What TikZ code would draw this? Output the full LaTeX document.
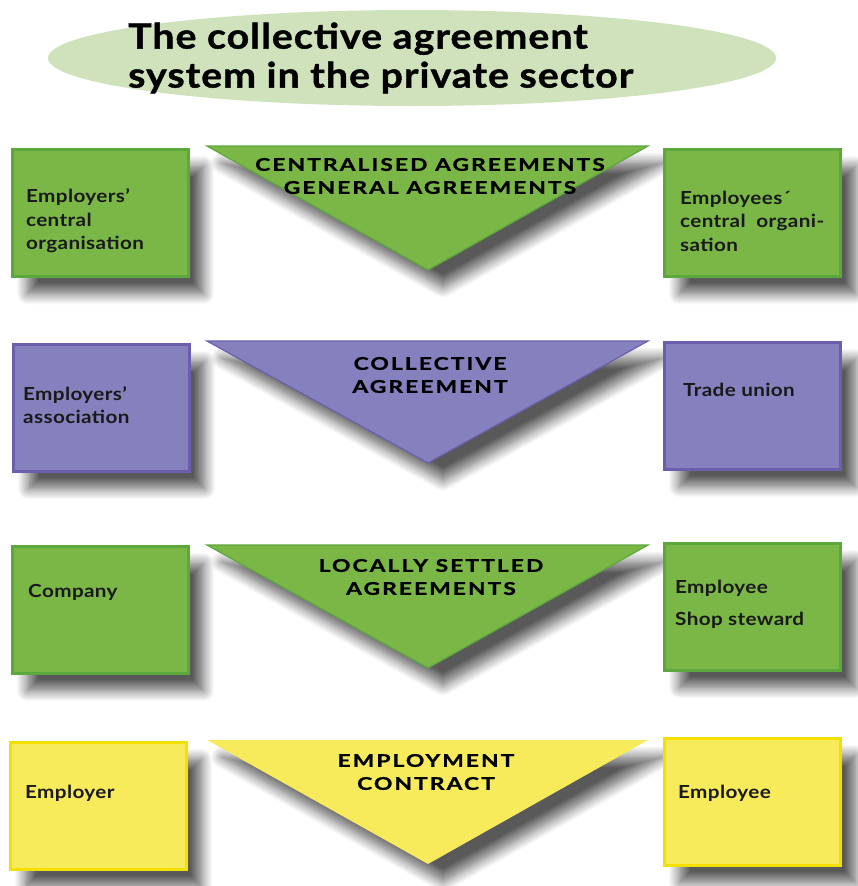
\documentclass[tikz,border=0pt]{standalone}
\usepackage{fontspec}
\setmainfont{Lato}
\usetikzlibrary{shadows.blur,shapes.geometric}
\definecolor{gfill}{HTML}{7BB747}
\definecolor{gline}{HTML}{5CA83D}
\definecolor{pfill}{HTML}{8581BE}
\definecolor{pline}{HTML}{6A5EAD}
\definecolor{yfill}{HTML}{F7EB5C}
\definecolor{yline}{HTML}{F4E000}
\definecolor{efill}{HTML}{CFE2BC}
\tikzset{
  shad/.style={blur shadow={shadow xshift=15pt, shadow yshift=-17pt, shadow blur radius=11pt, shadow blur steps=14, shadow opacity=65}},
  box/.style={rectangle, anchor=north west, minimum width=176pt, minimum height=127pt, line width=3pt, shad, inner sep=0pt},
  gbox/.style={box, fill=gfill, draw=gline},
  pbox/.style={box, fill=pfill, draw=pline},
  ybox/.style={box, fill=yfill, draw=yline},
  tri/.style={shad, line width=1.2pt},
  lbl/.style={anchor=west, align=left, font=\fontsize{18pt}{23.5pt}\selectfont\bfseries\addfontfeatures{FakeStretch=1.15,LetterSpace=2}, text=black!90, inner sep=0pt},
  hdr/.style={align=center, font=\fontsize{17.5pt}{23pt}\selectfont\bfseries\addfontfeatures{FakeStretch=1.3,LetterSpace=12,FakeBold=1.2}, text=black, inner sep=0pt},
}
\begin{document}
\begin{tikzpicture}[x=1pt,y=-1pt]
\useasboundingbox (0,0) rectangle (858,886);
% title
\node[ellipse, fill=efill, minimum width=728pt, minimum height=96pt, inner sep=0pt] (title) at (412,58) {};
\node[anchor=west, align=left, inner sep=0pt, font=\fontsize{35pt}{39pt}\selectfont\bfseries\addfontfeatures{FakeStretch=1.12,LetterSpace=3,FakeBold=1.2}, text=black] (titletext) at (128,58) {The collective agreement\\system in the private sector};

% row 1
\node[gbox] (b1l) at (11,148) {};
\fill[gfill, draw=gline, tri] (207,146) -- (648,146) -- (428,270) -- cycle;
\node[gbox] (b1r) at (663,148) {};
\node[hdr] (t1) at (430,176) {CENTRALISED AGREEMENTS\\GENERAL AGREEMENTS};
\node[lbl] (l1) at (26,221) {Employers’\\central\\organisation};
\node[lbl] (r1) at (680,221) {Employees´\\central\hspace{0.3em} organi-\\sation};

% row 2
\node[pbox] (b2l) at (12,343) {};
\fill[pfill, draw=pline, tri] (207,341) -- (648,341) -- (428,463) -- cycle;
\node[pbox] (b2r) at (663,341) {};
\node[hdr] (t2) at (430,375) {COLLECTIVE\\AGREEMENT};
\node[lbl] (l2) at (23,405) {Employers’\\association};
\node[lbl] (r2) at (683,390) {Trade union};

% row 3
\node[gbox] (b3l) at (11,545) {};
\fill[gfill, draw=gline, tri] (207,545) -- (648,545) -- (428,668) -- cycle;
\node[gbox] (b3r) at (663,542) {};
\node[hdr] (t3) at (431,577) {LOCALLY SETTLED\\AGREEMENTS};
\node[lbl] (l3) at (28,592) {Company};
\node[lbl, font=\fontsize{18pt}{32pt}\selectfont\bfseries\addfontfeatures{FakeStretch=1.15,LetterSpace=2}] (r3) at (675,604) {Employee\\Shop steward};

% row 4
\node[ybox] (b4l) at (9,741) {};
\fill[yfill, tri] (207,740) -- (648,740) -- (428,864) -- cycle;
\node[ybox] (b4r) at (663,737) {};
\node[hdr] (t4) at (426,772) {EMPLOYMENT\\CONTRACT};
\node[lbl] (l4) at (25,793) {Employer};
\node[lbl] (r4) at (678,793) {Employee};
\end{tikzpicture}
\end{document}
